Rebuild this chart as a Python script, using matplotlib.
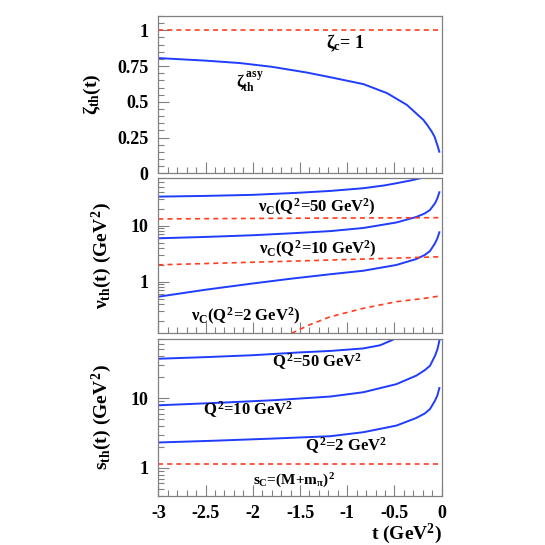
import matplotlib
matplotlib.use("Agg")
import matplotlib.pyplot as plt
from matplotlib.ticker import FixedLocator, FixedFormatter, MultipleLocator, LogLocator, NullFormatter

plt.rcParams['font.family'] = 'Liberation Serif'
plt.rcParams['font.weight'] = 'bold'
plt.rcParams['axes.labelweight'] = 'bold'
plt.rcParams['mathtext.fontset'] = 'custom'
plt.rcParams['mathtext.rm'] = 'Liberation Serif:bold'
plt.rcParams['mathtext.it'] = 'Liberation Serif:bold'
plt.rcParams['mathtext.bf'] = 'Liberation Serif:bold'
plt.rcParams['axes.unicode_minus'] = False

# ---- data ----
# top panel: zeta_th^asy(t) and zeta_c = 1
t_zeta = [-3.0, -2.5, -2.135, -1.8, -1.43, -1.18, -0.83, -0.58, -0.37, -0.195, -0.15, -0.106, -0.075, -0.053, -0.04, -0.026]
zeta_asy = [0.806, 0.788, 0.771, 0.745, 0.705, 0.672, 0.624, 0.561, 0.479, 0.374, 0.335, 0.292, 0.255, 0.210, 0.185, 0.151]
t_zeta_c = [-3.0, 0.0]
zeta_c = [1.0, 1.0]

# middle panel: nu_th(t) (blue) and nu_C (red dashed) for Q2 = 50, 10, 2
t_nu50 = [-3.0, -2.5, -2.0, -1.54, -1.18, -0.83, -0.6, -0.48, -0.33, -0.23]
nu_th50 = [33.0, 34.0, 35.5, 38.5, 41.7, 46.6, 52.5, 57.2, 64.0, 70.0]
t_nu = [-3.0, -2.5, -2.0, -1.6, -1.18, -0.83, -0.48, -0.27, -0.18, -0.124, -0.071, -0.045, -0.025]
nu_th10 = [5.96, 6.3, 6.75, 7.3, 8.0, 9.1, 11.4, 14.3, 16.5, 19.1, 25.1, 31.0, 39.5]
nu_th2 = [0.54, 0.72, 0.93, 1.13, 1.36, 1.57, 1.99, 2.54, 3.0, 3.53, 4.85, 6.0, 7.62]
t_nuC = [-3.0, -1.5, -0.01]
nu_C50 = [13.2, 13.6, 13.9]
nu_C10 = [2.0, 2.35, 2.79]
t_nuC2 = [-1.59, -1.4, -1.18, -0.83, -0.48, -0.2, -0.01]
nu_C2 = [0.12, 0.17, 0.237, 0.335, 0.44, 0.50, 0.56]

# bottom panel: s_th(t) (blue) for Q2 = 50, 10, 2 and s_C (red dashed)
t_s50 = [-3.0, -2.5, -2.0, -1.5, -1.18, -0.83, -0.65, -0.5]
s_th50 = [36.5, 38.5, 41.0, 45.0, 47.2, 51.3, 57.0, 70.0]
t_s = [-3.0, -2.4, -1.78, -1.18, -0.83, -0.48, -0.27, -0.18, -0.124, -0.071, -0.045, -0.025]
s_th10 = [7.87, 8.5, 9.3, 10.5, 12.1, 15.8, 20.9, 25.0, 29.0, 40.3, 50.0, 66.0]
s_th2 = [2.31, 2.45, 2.63, 2.84, 3.24, 4.03, 5.18, 6.0, 6.96, 9.18, 11.0, 13.9]
t_sC = [-3.0, -0.01]
s_C = [1.15, 1.15]

x_ticks = [-3, -2.5, -2, -1.5, -1, -0.5, 0]
x_ticklabels = ['-3', '-2.5', '-2', '-1.5', '-1', '-0.5', '0']
zeta_ticks = [0, 0.25, 0.5, 0.75, 1]
zeta_ticklabels = ['0', '0.25', '0.5', '0.75', '1']
log_ticks = [1, 10]
log_ticklabels = ['1', '10']

BLUE = '#1f3cff'
RED = '#ff3c1e'
FRAME = '#808080'
FS = 13

fig = plt.figure(figsize=(5.45, 5.45), dpi=100)
L, W = 0.2905, 0.520
ax1 = fig.add_axes([L, 0.682, W, 0.2886])
ax2 = fig.add_axes([L, 0.3884, W, 0.2844])
ax3 = fig.add_axes([L, 0.0905, W, 0.2875])

for ax in (ax1, ax2, ax3):
    ax.set_xlim(-3, 0)
    ax.xaxis.set_major_locator(FixedLocator(x_ticks))
    ax.xaxis.set_minor_locator(MultipleLocator(0.1))
    ax.tick_params(which='major', direction='in', length=8, width=0.8, color=FRAME,
                   labelsize=FS, top=False, right=False, pad=7)
    ax.tick_params(which='minor', direction='in', length=4, width=0.8, color=FRAME,
                   top=False, right=False)
    for sp in ax.spines.values():
        sp.set_color(FRAME)
        sp.set_linewidth(0.9)
    ax.xaxis.set_major_formatter(FixedFormatter(x_ticklabels))
    if ax is not ax3:
        ax.tick_params(axis='x', labelbottom=False)

# top panel
ax1.plot(t_zeta, zeta_asy, color=BLUE, lw=1.4)
ax1.plot(t_zeta_c, zeta_c, color=RED, lw=1.2, ls=(0, (3, 2.5)))
ax1.set_ylim(0, 1.1)
ax1.yaxis.set_major_locator(FixedLocator(zeta_ticks))
ax1.yaxis.set_major_formatter(FixedFormatter(zeta_ticklabels))
ax1.yaxis.set_minor_locator(MultipleLocator(0.05))
ax1.set_ylabel(r'$\zeta_{th}(t)$', fontsize=FS + 1, labelpad=10)
ax1.text(0.659, 0.828, r'$\zeta_{c}$= 1', transform=ax1.transAxes, fontsize=FS,
         ha='center', va='center')
ax1.text(0.324, 0.58, r'$\zeta_{th}^{\,asy}$', transform=ax1.transAxes, fontsize=FS - 1,
         ha='center', va='center')

# middle panel
ax2.set_yscale('log')
ax2.plot(t_nu50, nu_th50, color=BLUE, lw=1.4)
ax2.plot(t_nu, nu_th10, color=BLUE, lw=1.4)
ax2.plot(t_nu, nu_th2, color=BLUE, lw=1.4)
ax2.plot(t_nuC, nu_C50, color=RED, lw=1.2, ls=(0, (3, 2.5)))
ax2.plot(t_nuC, nu_C10, color=RED, lw=1.2, ls=(0, (3, 2.5)))
ax2.plot(t_nuC2, nu_C2, color=RED, lw=1.2, ls=(0, (3, 2.5)))
ax2.set_ylim(0.12, 70)
ax2.set_ylabel(r'$\nu_{th}(t)\ (GeV^{2})$', fontsize=FS + 1, labelpad=12)
ax2.text(0.56, 0.815, r'$\nu_{C}(Q^{2}$=50 GeV$^{2})$', transform=ax2.transAxes,
         fontsize=FS - 1, ha='center', va='center')
ax2.text(0.563, 0.544, r'$\nu_{C}(Q^{2}$=10 GeV$^{2})$', transform=ax2.transAxes,
         fontsize=FS - 1, ha='center', va='center')
ax2.text(0.31, 0.112, r'$\nu_{C}(Q^{2}$=2 GeV$^{2})$', transform=ax2.transAxes,
         fontsize=FS - 1, ha='center', va='center')

# bottom panel
ax3.set_yscale('log')
ax3.plot(t_s50, s_th50, color=BLUE, lw=1.4)
ax3.plot(t_s, s_th10, color=BLUE, lw=1.4)
ax3.plot(t_s, s_th2, color=BLUE, lw=1.4)
ax3.plot(t_sC, s_C, color=RED, lw=1.2, ls=(0, (3, 2.5)))
ax3.set_ylim(0.4, 70)
ax3.set_ylabel(r'$s_{th}(t)\ (GeV^{2})$', fontsize=FS + 1, labelpad=12)
ax3.text(0.56, 0.853, r'$Q^{2}$=50 GeV$^{2}$', transform=ax3.transAxes,
         fontsize=FS - 1, ha='center', va='center')
ax3.text(0.316, 0.547, r'$Q^{2}$=10 GeV$^{2}$', transform=ax3.transAxes,
         fontsize=FS - 1, ha='center', va='center')
ax3.text(0.662, 0.32, r'$Q^{2}$=2 GeV$^{2}$', transform=ax3.transAxes,
         fontsize=FS - 1, ha='center', va='center')
ax3.text(0.479, 0.094, r'$s_{C}$=(M+m$_{\pi})^{2}$', transform=ax3.transAxes,
         fontsize=FS - 2, ha='center', va='center')
ax3.set_xlabel(r't (GeV$^{2}$)', fontsize=FS + 1, ha='right', va='baseline')
ax3.xaxis.set_label_coords(1.0, -0.278)

for ax in (ax2, ax3):
    ax.yaxis.set_major_locator(FixedLocator(log_ticks))
    ax.yaxis.set_major_formatter(FixedFormatter(log_ticklabels))
    ax.yaxis.set_minor_locator(LogLocator(base=10, subs=range(2, 10)))
    ax.yaxis.set_minor_formatter(NullFormatter())

fig.savefig('out.png', dpi=100)
